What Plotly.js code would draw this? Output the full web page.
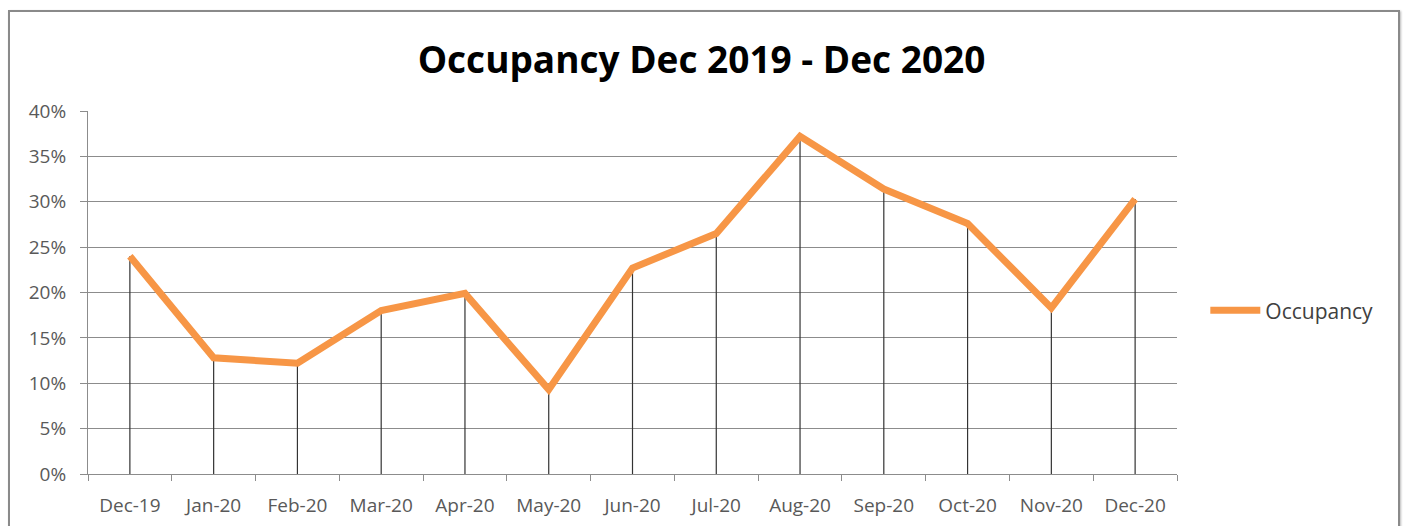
<!DOCTYPE html>
<html>
<head>
<meta charset="utf-8">
<script src="https://cdn.plot.ly/plotly-3.0.1.min.js"></script>
<style>
  html, body { margin: 0; padding: 0; background: #fff; overflow: hidden; }
  #wrap { position: relative; width: 1403px; height: 526px; }
  #frame { position: absolute; left: 8px; top: 10px; width: 1388px; height: 600px;
           border: 2px solid #8a8a8a; box-shadow: 1px 1px 2px #bbb; pointer-events: none; }
  #chart { position: absolute; left: 0; top: 0; width: 1403px; height: 526px; }
</style>
</head>
<body>
<div id="wrap">
  <div id="chart"></div>
  <div id="frame"></div>
</div>
<script>
const categories = ["Dec-19","Jan-20","Feb-20","Mar-20","Apr-20","May-20","Jun-20",
                    "Jul-20","Aug-20","Sep-20","Oct-20","Nov-20","Dec-20"];
const occupancy = [0.240, 0.128, 0.122, 0.180, 0.199, 0.093, 0.227,
                   0.265, 0.372, 0.314, 0.276, 0.183, 0.303];
const yTickValues = [0, 0.05, 0.10, 0.15, 0.20, 0.25, 0.30, 0.35, 0.40];
const seriesName = "Occupancy";
const chartTitle = "Occupancy Dec 2019 - Dec 2020";

// drop lines built from the data
const dropX = [], dropY = [];
categories.forEach((c, i) => { dropX.push(c, c, null); dropY.push(0, occupancy[i], null); });

const xLabelFont = { family: "Open Sans, sans-serif", size: 19, color: "#595959" };
const yLabelFont = { family: "Open Sans, sans-serif", size: 19, color: "#595959" };

const traces = [
  { x: dropX, y: dropY, type: "scatter", mode: "lines", showlegend: false, hoverinfo: "skip",
    line: { color: "#333333", width: 1.2 } },
  { x: categories, y: occupancy, type: "scatter", mode: "lines", name: seriesName,
    line: { color: "#F79646", width: 7 } }
];

const layout = {
  width: 1403, height: 526,
  paper_bgcolor: "rgba(0,0,0,0)", plot_bgcolor: "#fff",
  margin: { l: 88, r: 226, t: 111, b: 52 },
  title: { text: "<b>" + chartTitle + "</b>", x: 0.5, xref: "container", xanchor: "center",
           y: 0.886, yref: "container", yanchor: "middle",
           font: { family: "Open Sans, sans-serif", size: 37, color: "#000" } },
  xaxis: { type: "category", categoryorder: "array", categoryarray: categories,
           range: [-0.5, categories.length - 0.5],
           showgrid: false, showline: true, linecolor: "#8c8c8c", linewidth: 1,
           ticks: "outside", tickson: "boundaries", ticklen: 6, tickcolor: "#8c8c8c",
           ticklabelstandoff: 14, tickfont: xLabelFont, zeroline: false, fixedrange: true },
  yaxis: { range: [0, 0.4], tickvals: yTickValues, tickformat: ".0%",
           showgrid: true, gridcolor: "#8c8c8c", gridwidth: 1,
           showline: true, linecolor: "#8c8c8c", linewidth: 1,
           ticks: "outside", ticklen: 7, tickcolor: "#8c8c8c",
           ticklabelstandoff: 10, tickfont: yLabelFont, zeroline: false, fixedrange: true },
  showlegend: true,
  legend: { x: 1.026, xanchor: "left", y: 0.45, yanchor: "middle",
            font: { family: "Open Sans, sans-serif", size: 21, color: "#404040" },
            itemwidth: 50, bgcolor: "rgba(0,0,0,0)" }
};

Plotly.newPlot("chart", traces, layout, { displayModeBar: false, staticPlot: true });
</script>
</body>
</html>
